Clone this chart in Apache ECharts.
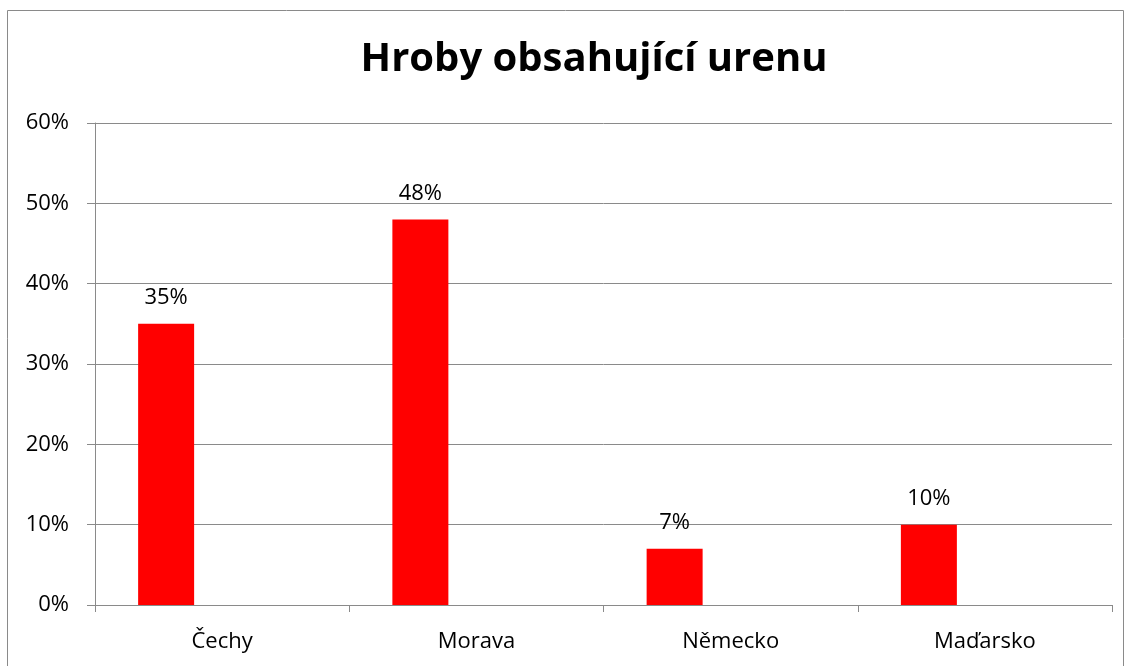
<!DOCTYPE html>
<html><head><meta charset="utf-8">
<script src="https://cdn.jsdelivr.net/npm/echarts@6/dist/echarts.min.js"></script>
<style>html,body{margin:0;padding:0;background:#fff}#c{width:1131px;height:666px}</style>
</head><body><div id="c"></div>
<script>
const title = 'Hroby obsahující urenu';
const categories = ['Čechy', 'Morava', 'Německo', 'Maďarsko'];
const values = [35, 48, 7, 10];
const emptySeries = [null, null, null, null];
const yTicks = [0, 10, 20, 30, 40, 50, 60];

const chart = echarts.init(document.getElementById('c'));
const font = '"Open Sans", "Noto Sans", sans-serif';
chart.setOption({
  animation: false,
  backgroundColor: '#fff',
  title: {
    text: title, left: 589, top: 35, textAlign: 'center',
    textStyle: {fontFamily: font, fontSize: 40, fontWeight: 'bold', color: '#000'}
  },
  graphic: [{type: 'rect', shape: {x: 7.5, y: 10.5, width: 1116, height: 660},
    style: {fill: 'none', stroke: '#8a8a8a', lineWidth: 1}}],
  grid: {left: 95, right: 19, top: 123, bottom: 61},
  xAxis: {
    type: 'category', data: categories, boundaryGap: true,
    axisLine: {lineStyle: {color: '#8a8a8a'}},
    axisTick: {show: true, length: 7, lineStyle: {color: '#8a8a8a'}},
    axisLabel: {fontFamily: font, fontSize: 22, color: '#000', margin: 26}
  },
  yAxis: {
    type: 'value', min: yTicks[0], max: yTicks[yTicks.length - 1], interval: 10,
    axisLine: {show: true, lineStyle: {color: '#8a8a8a'}},
    axisTick: {show: true, length: 8, lineStyle: {color: '#8a8a8a'}},
    splitLine: {lineStyle: {color: '#8a8a8a'}},
    axisLabel: {fontFamily: font, fontSize: 22, color: '#000', margin: 26, formatter: '{value}%'}
  },
  series: [{
    type: 'bar', data: values, barWidth: 56, barGap: '100%',
    itemStyle: {color: '#ff0000'},
    label: {show: true, position: 'top', distance: 15, formatter: '{c}%', fontFamily: font, fontSize: 22, color: '#000'}
  }, {
    type: 'bar', data: emptySeries, barWidth: 56, itemStyle: {color: '#ff0000'}
  }]
});
</script></body></html>
